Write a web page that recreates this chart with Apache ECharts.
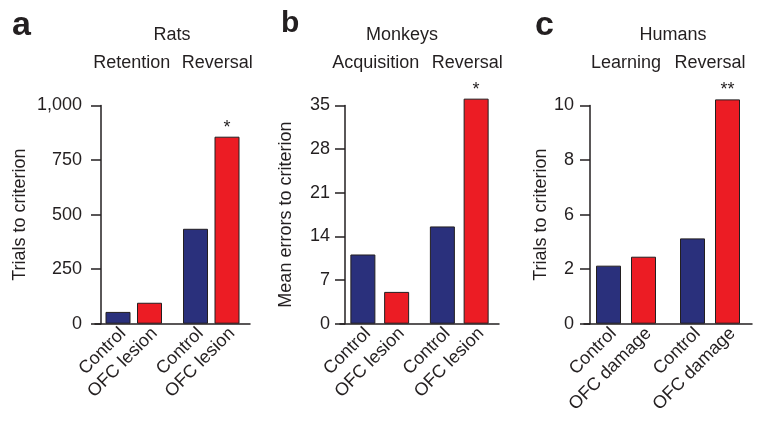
<!DOCTYPE html>
<html><head><meta charset="utf-8">
<script src="https://cdn.jsdelivr.net/npm/echarts@6/dist/echarts.min.js"></script>
<style>html,body{margin:0;padding:0;background:#fff}#c{width:762px;height:425px}</style>
</head><body><div id="c"></div>
<script>
// ---- data ----
const panelLetters = ['a', 'b', 'c'];
const speciesNames = ['Rats', 'Monkeys', 'Humans'];
const ratPhases = ['Retention', 'Reversal'];
const monkeyPhases = ['Acquisition', 'Reversal'];
const humanPhases = ['Learning', 'Reversal'];
const ratGroups = ['Control', 'OFC lesion'];
const monkeyGroups = ['Control', 'OFC lesion'];
const humanGroups = ['Control', 'OFC damage'];
const ratControl = [54, 435];
const ratOFC = [96, 857];
const monkeyControl = [11.1, 15.6];
const monkeyOFC = [5.1, 36.1];
const humanControl = [2.66, 3.91];
const humanOFC = [3.07, 10.28];
const ratSig = ['', '*'];
const monkeySig = ['', '*'];
const humanSig = ['', '**'];
const ratYTicks = ['0', '250', '500', '750', '1,000'];
const monkeyYTicks = ['0', '7', '14', '21', '28', '35'];
const humanYTicks = ['0', '2', '6', '8', '10'];
const yNames = ['Trials to criterion', 'Mean errors to criterion', 'Trials to criterion'];

// ---- assembly ----
const panels = [
  {phases: ratPhases, groups: ratGroups, ctrl: ratControl, ofc: ratOFC, sig: ratSig, ticks: ratYTicks, max: 1000, interval: 250},
  {phases: monkeyPhases, groups: monkeyGroups, ctrl: monkeyControl, ofc: monkeyOFC, sig: monkeySig, ticks: monkeyYTicks, max: 35, interval: 7},
  {phases: humanPhases, groups: humanGroups, ctrl: humanControl, ofc: humanOFC, sig: humanSig, ticks: humanYTicks, max: 10, interval: 2.5}
];
const layout = [
  {left: 95, width: 155, yOffset: -6, nameGap: 72, labelMargin: 19, barGap: '26%', letterX: 7, letterSize: 34, speciesX: 167, phaseShift: [-2, 6]},
  {left: 340, width: 159, yOffset: -5, nameGap: 50, labelMargin: 15, barGap: '35%', letterX: 276, letterSize: 30, speciesX: 397, phaseShift: [-4, 8]},
  {left: 584, width: 168, yOffset: -6, nameGap: 40, labelMargin: 16, barGap: '40%', letterX: 530, letterSize: 34, speciesX: 668, phaseShift: [0, 0]}
];
const FONT = '"Liberation Sans", Arial, sans-serif';
const INK = '#231f20';
const BLUE = '#2a307c';
const RED = '#ec1c24';
const GRID_TOP = 105.5, GRID_H = 218.2;

const grid = [], xAxis = [], yAxis = [], series = [], title = [];
panels.forEach((p, i) => {
  const L = layout[i];
  grid.push({left: L.left, width: L.width, top: GRID_TOP, height: GRID_H});
  xAxis.push({
    type: 'category', gridIndex: i, data: p.phases, position: 'bottom',
    axisLine: {show: true, lineStyle: {color: INK, width: 1.5}},
    axisTick: {show: false}, axisLabel: {show: false}
  });
  const rich = {};
  L.phaseShift.forEach((s, k) => {
    rich['p' + k] = {fontSize: 18, color: INK, fontFamily: FONT,
      padding: s >= 0 ? [0, 0, 0, 2 * s] : [0, -2 * s, 0, 0]};
  });
  xAxis.push({
    type: 'category', gridIndex: i, data: p.phases, position: 'top',
    axisLine: {show: false}, axisTick: {show: false},
    axisLabel: {show: true, interval: 0, hideOverlap: false, margin: 33, fontSize: 18, color: INK, fontFamily: FONT,
      formatter: (v, idx) => '{p' + idx + '|' + v + '}', rich}
  });
  yAxis.push({
    type: 'value', gridIndex: i, min: 0, max: p.max, interval: p.interval, offset: L.yOffset,
    name: yNames[i], nameLocation: 'middle', nameGap: L.nameGap,
    nameTextStyle: {fontSize: 18, color: INK, fontFamily: FONT},
    axisLine: {show: true, lineStyle: {color: INK, width: 1.5}},
    axisTick: {show: true, length: 10, lineStyle: {color: INK, width: 1.5}},
    splitLine: {show: false},
    axisLabel: {margin: L.labelMargin, fontSize: 18, color: INK, fontFamily: FONT,
      formatter: (v, idx) => p.ticks[idx]}
  });
  const barLabel = {
    show: true, position: 'bottom', distance: 12, rotate: 45, align: 'right', verticalAlign: 'middle',
    offset: [7, 0], fontSize: 18, color: INK, fontFamily: FONT, formatter: (prm) => prm.seriesName
  };
  [[p.groups[0], p.ctrl, BLUE], [p.groups[1], p.ofc, RED]].forEach(([nm, vals, col]) => {
    series.push({
      type: 'bar', name: nm, xAxisIndex: i * 2, yAxisIndex: i, data: vals,
      barWidth: 25, barGap: L.barGap, clip: false, silent: true,
      itemStyle: {color: col, borderColor: INK, borderWidth: 1},
      label: barLabel
    });
  });
  // significance markers, same layout on the top (phase) axis
  [[p.ctrl, p.sig.map(() => '')], [p.ofc, p.sig]].forEach(([vals, marks], k) => {
    series.push({
      type: 'bar', name: 'sig' + i + k, xAxisIndex: i * 2 + 1, yAxisIndex: i, data: vals,
      barWidth: 25, barGap: L.barGap, clip: false, silent: true,
      itemStyle: {color: 'rgba(0,0,0,0)', borderWidth: 0},
      label: {show: true, position: 'top', distance: 0, fontSize: 18, color: INK, fontFamily: FONT,
        formatter: (prm) => marks[prm.dataIndex]}
    });
  });
  title.push({text: panelLetters[i], left: L.letterX, top: 4,
    textStyle: {fontSize: L.letterSize, fontWeight: 'bold', color: INK, fontFamily: FONT}});
  title.push({text: speciesNames[i], left: L.speciesX, top: 21, textAlign: 'center',
    textStyle: {fontSize: 18, fontWeight: 'normal', color: INK, fontFamily: FONT}});
});

const chart = echarts.init(document.getElementById('c'), null, {renderer: 'canvas'});
chart.setOption({animation: false, backgroundColor: '#fff', title, grid, xAxis, yAxis, series});
</script></body></html>
